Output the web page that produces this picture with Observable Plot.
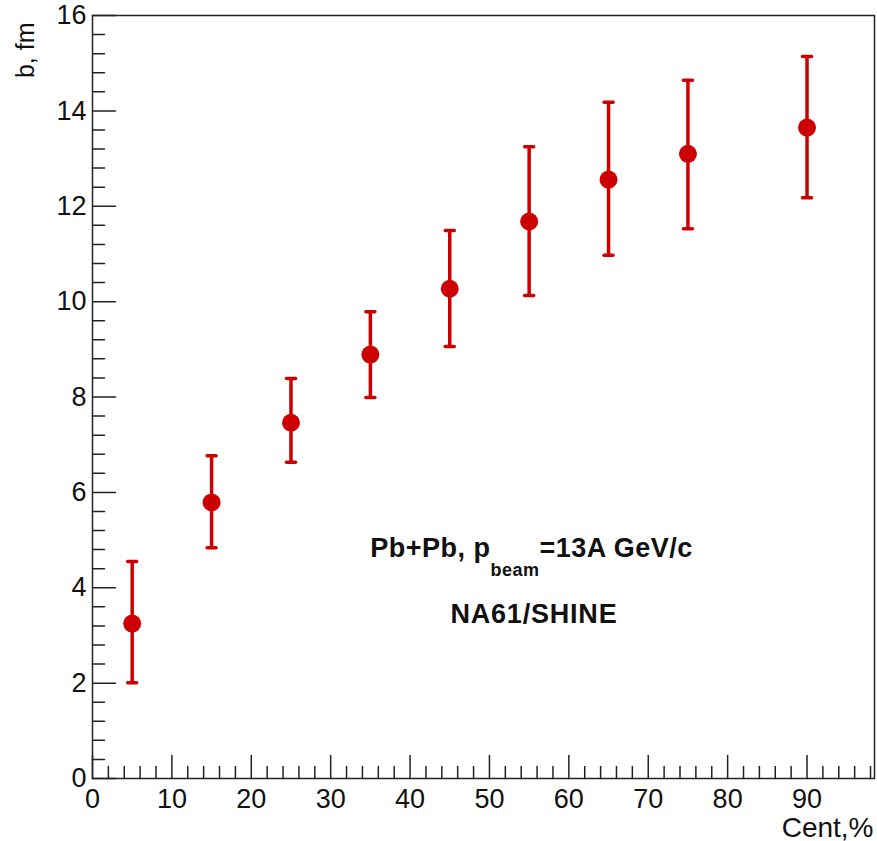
<!DOCTYPE html>
<html><head><meta charset="utf-8">
<script src="https://cdn.jsdelivr.net/npm/d3@7"></script>
<script src="https://cdn.jsdelivr.net/npm/@observablehq/plot@0.6"></script>
<style>body{margin:0;background:#fff;} svg{display:block;}</style>
</head><body><div id="chart"></div>
<script>
// Data
const centrality = [5, 15, 25, 35, 45, 55, 65, 75, 90];
const bMean = [3.25, 5.79, 7.46, 8.89, 10.27, 11.68, 12.56, 13.10, 13.65];
const bLow  = [2.01, 4.84, 6.63, 7.99, 9.06, 10.13, 10.97, 11.53, 12.18];
const bHigh = [4.55, 6.77, 8.39, 9.79, 11.49, 13.25, 14.18, 14.64, 15.14];
const xTickLabels = [0, 10, 20, 30, 40, 50, 60, 70, 80, 90];
const yTickLabels = [0, 2, 4, 6, 8, 10, 12, 14, 16];
const xTitle = "Cent,%";
const yTitle = "b, fm";
const annotation1 = "Pb+Pb, p_{beam}=13A GeV/c";
const annotation2 = "NA61/SHINE";

const rows = centrality.map((c, i) => ({c, b: bMean[i], lo: bLow[i], hi: bHigh[i]}));
const xMinor = d3.range(0, 99, 2).filter(v => v % 10 !== 0);
const yMinor = d3.range(0, 16.01, 0.4).map(v => +v.toFixed(1)).filter(v => Math.abs(v / 2 - Math.round(v / 2)) > 1e-6);

const red = "#cc0000";
const tickShape = {draw(ctx, l) { ctx.moveTo(0, 0); ctx.lineTo(0, -l); }};
const capShape = {draw(ctx, l) { ctx.moveTo(0, -l / 2); ctx.lineTo(0, l / 2); }};
const font = "'Liberation Sans', Arial, Helvetica, sans-serif";

const chart = Plot.plot({
  width: 877,
  height: 841,
  marginLeft: 92,
  marginTop: 15,
  marginRight: 3,
  marginBottom: 63,
  style: {fontFamily: font, background: "white", color: "black"},
  x: {domain: [0, 98.5]},
  y: {domain: [0, 16]},
  marks: [
    Plot.frame({stroke: "#222", strokeWidth: 1.5}),
    // major/minor ticks drawn inward
    Plot.vector(xTickLabels, {x: d => d, y: 0, length: 23, rotate: 0, anchor: "start", shape: tickShape, stroke: "#222", strokeWidth: 1.5}),
    Plot.vector(xMinor, {x: d => d, y: 0, length: 12, rotate: 0, anchor: "start", shape: tickShape, stroke: "#222", strokeWidth: 1.5}),
    Plot.vector(yTickLabels, {x: 0, y: d => d, length: 23, rotate: 90, anchor: "start", shape: tickShape, stroke: "#222", strokeWidth: 1.5}),
    Plot.vector(yMinor, {x: 0, y: d => d, length: 12, rotate: 90, anchor: "start", shape: tickShape, stroke: "#222", strokeWidth: 1.5}),
    Plot.axisX(xTickLabels, {tickSize: 0, tickPadding: 10, fontSize: 27, label: null, fill: "#111"}),
    Plot.axisY(yTickLabels, {tickSize: 0, tickPadding: 6, fontSize: 27, label: null, fill: "#111"}),
    Plot.text([yTitle], {text: d => d, frameAnchor: "top-left", rotate: -90, textAnchor: "end", lineAnchor: "bottom", dx: -59, dy: 7, fontSize: 25, fill: "#111"}),
    Plot.text([xTitle], {text: d => d, frameAnchor: "bottom-right", textAnchor: "end", lineAnchor: "bottom", dx: -1, dy: 58, fontSize: 28, fill: "#111"}),
    // error bars
    Plot.ruleX(rows, {x: "c", y1: "lo", y2: "hi", stroke: red, strokeWidth: 3.5}),
    Plot.vector(rows, {x: "c", y: "hi", length: 9, rotate: 90, anchor: "start", shape: capShape, stroke: red, strokeWidth: 3.5}),
    Plot.vector(rows, {x: "c", y: "lo", length: 9, rotate: 90, anchor: "start", shape: capShape, stroke: red, strokeWidth: 3.5}),
    Plot.dot(rows, {x: "c", y: "b", r: 9, fill: red}),
    // annotations
    Plot.text([annotation1], {text: d => d, x: 55.3, y: 4.65, textAnchor: "middle", lineAnchor: "bottom", fontSize: 27, fontWeight: "bold", fill: "#111"}),
    Plot.text([annotation2], {text: d => d, x: 55.6, y: 3.27, textAnchor: "middle", lineAnchor: "bottom", fontSize: 27, fontWeight: "bold", fill: "#111"})
  ]
});

// render the subscript of annotation 1 as tspans; widen bold annotations a little
chart.querySelectorAll("text").forEach(t => {
  if (t.textContent === annotation1) {
    const m = annotation1.match(/^(.*)_\{(.*)\}(.*)$/);
    t.textContent = "";
    const ns = "http://www.w3.org/2000/svg";
    const a = document.createElementNS(ns, "tspan"); a.textContent = m[1];
    const s = document.createElementNS(ns, "tspan"); s.textContent = m[2];
    s.setAttribute("dy", "19"); s.setAttribute("font-size", "18");
    const c = document.createElementNS(ns, "tspan"); c.textContent = m[3];
    c.setAttribute("dy", "-19");
    t.append(a, s, c);
    t.setAttribute("letter-spacing", "0.5");
  } else if (t.textContent === annotation2) {
    t.setAttribute("letter-spacing", "0.8");
  }
});

document.getElementById("chart").append(chart);
</script>
</body></html>
